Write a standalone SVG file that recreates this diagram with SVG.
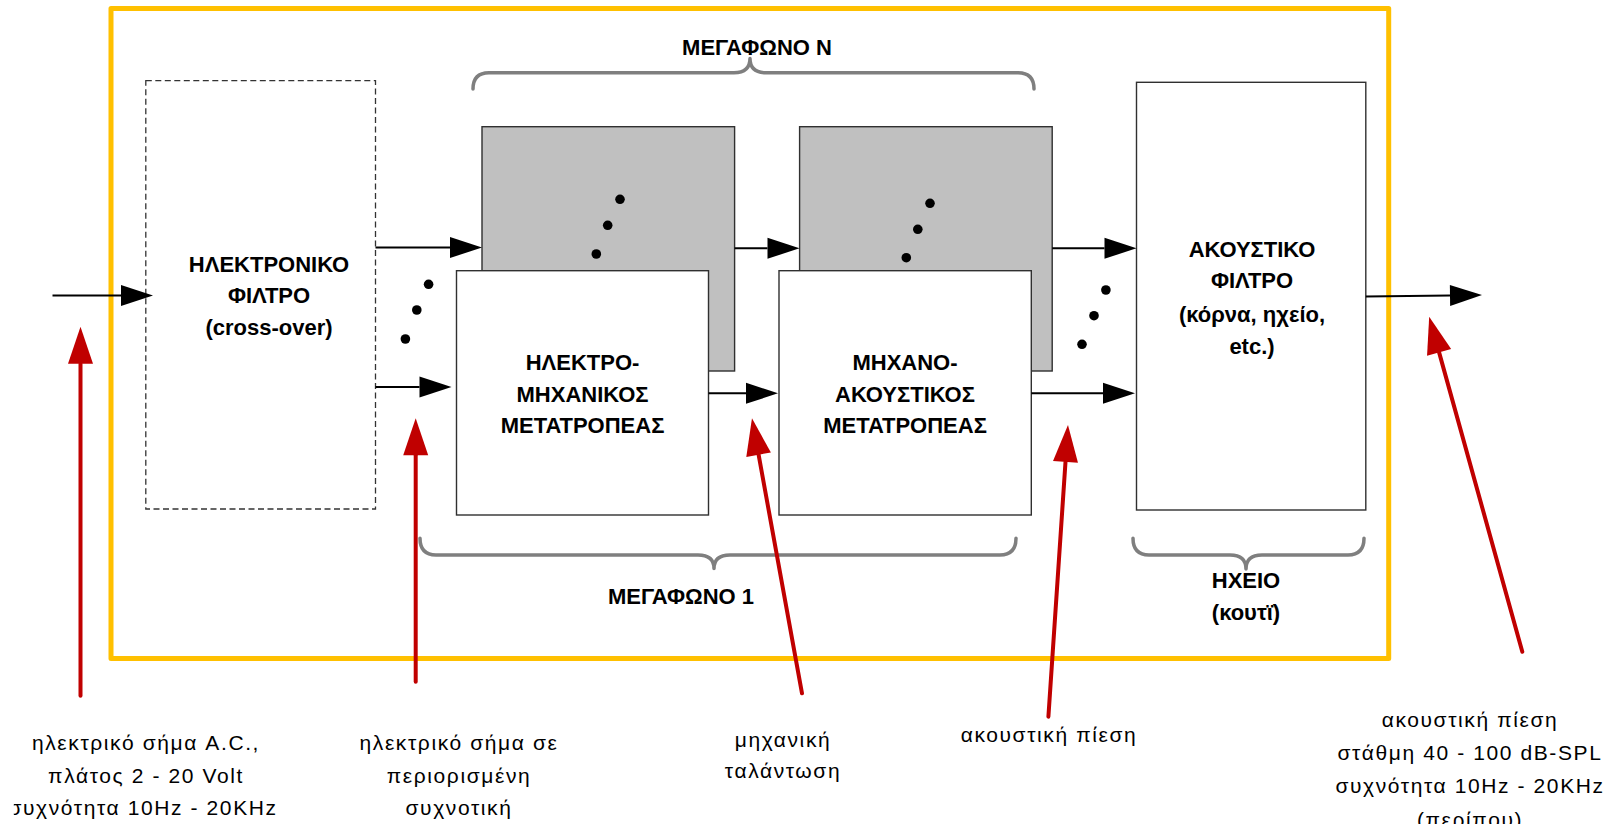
<svg xmlns="http://www.w3.org/2000/svg" width="1622" height="824" viewBox="0 0 1622 824">
  <style>
    .lbl { font-family: "Liberation Sans", Arial, sans-serif; font-weight: bold; font-size: 22px; fill: #000; text-anchor: middle; }
    .note { font-family: "Liberation Sans", Arial, sans-serif; font-size: 21px; letter-spacing: 1.6px; fill: #000; text-anchor: middle; }
    .frame { fill: none; stroke: #FFC000; stroke-width: 5; stroke-linejoin: round; }
    .box { fill: #FFFFFF; stroke: #303030; stroke-width: 1.4; }
    .shade { fill: #C0C0C0; stroke: #303030; stroke-width: 1.4; }
    .dashed { fill: #FFFFFF; stroke: #333333; stroke-width: 1.3; stroke-dasharray: 6 3.5; }
    .brace { fill: none; stroke: #7F7F7F; stroke-width: 3.5; stroke-linecap: round; stroke-linejoin: round; }
    .flow { fill: none; stroke: #000; stroke-width: 2; marker-end: url(#ah); }
    .call { fill: none; stroke: #C00000; stroke-width: 4; stroke-linecap: round; marker-end: url(#rh); }
    .dot { fill: #000; }
  </style>
  <defs>
    <!-- black flow arrowhead: base sits on the line end -->
    <marker id="ah" markerUnits="userSpaceOnUse" viewBox="0 -10.5 32 21" markerWidth="32" markerHeight="21" refX="0" refY="0" orient="auto" overflow="visible">
      <path d="M0,-10.5 L32,0 L0,10.5 Z" fill="#000"/>
    </marker>
    <!-- red callout arrowhead -->
    <marker id="rh" markerUnits="userSpaceOnUse" viewBox="0 -12.5 37 25" markerWidth="37" markerHeight="25" refX="0" refY="0" orient="auto" overflow="visible">
      <path d="M0,-12.5 L37,0 L0,12.5 Z" fill="#C00000"/>
    </marker>
    <!-- the left note's text box trims its first glyph -->
    <clipPath id="note-input-clip">
      <rect x="13.8" y="600" width="400" height="224"/>
    </clipPath>
  </defs>

  <rect width="1622" height="824" fill="#FFFFFF"/>

  <!-- speaker system boundary -->
  <rect id="system-frame" class="frame" x="111" y="8.5" width="1277.7" height="650"/>

  <!-- electronic crossover filter -->
  <g id="crossover">
    <rect class="dashed" x="145.8" y="80.7" width="229.7" height="428.3"/>
    <text class="lbl" x="269" y="271.5">ΗΛΕΚΤΡΟΝΙΚΟ</text>
    <text class="lbl" x="269" y="303.3">ΦΙΛΤΡΟ</text>
    <text class="lbl" x="269" y="335">(cross-over)</text>
  </g>

  <!-- driver N (shaded, behind) -->
  <g id="driver-n-electromech">
    <rect class="shade" x="482" y="126.7" width="252.6" height="244.3"/>
    <circle class="dot" cx="620" cy="199.3" r="4.8"/>
    <circle class="dot" cx="607.7" cy="225.3" r="4.8"/>
    <circle class="dot" cx="596.3" cy="254" r="4.8"/>
  </g>
  <g id="driver-n-mechacoustic">
    <rect class="shade" x="799.6" y="126.7" width="252.6" height="244.3"/>
    <circle class="dot" cx="930" cy="203.3" r="4.8"/>
    <circle class="dot" cx="917.8" cy="229.3" r="4.8"/>
    <circle class="dot" cx="906.3" cy="257.7" r="4.8"/>
  </g>

  <!-- driver 1 -->
  <g id="electromech-transducer">
    <rect class="box" x="456.5" y="270.7" width="252" height="244.3"/>
    <text class="lbl" x="582.5" y="370">ΗΛΕΚΤΡΟ-</text>
    <text class="lbl" x="582.5" y="401.7">ΜΗΧΑΝΙΚΟΣ</text>
    <text class="lbl" x="582.5" y="433.3">ΜΕΤΑΤΡΟΠΕΑΣ</text>
  </g>
  <g id="mechacoustic-transducer">
    <rect class="box" x="779" y="270.7" width="252.3" height="244.3"/>
    <text class="lbl" x="905" y="370">ΜΗΧΑΝΟ-</text>
    <text class="lbl" x="905" y="401.7">ΑΚΟΥΣΤΙΚΟΣ</text>
    <text class="lbl" x="905" y="433.3">ΜΕΤΑΤΡΟΠΕΑΣ</text>
  </g>

  <!-- acoustic filter / enclosure -->
  <g id="acoustic-filter">
    <rect class="box" x="1136.5" y="82.3" width="229.3" height="427.7"/>
    <text class="lbl" x="1252" y="256.7">ΑΚΟΥΣΤΙΚΟ</text>
    <text class="lbl" x="1252" y="288.3">ΦΙΛΤΡΟ</text>
    <text class="lbl" x="1252" y="321.7">(κόρνα, ηχείο,</text>
    <text class="lbl" x="1252" y="354">etc.)</text>
  </g>

  <!-- ellipsis dots between parallel paths -->
  <g id="path-dots">
    <circle class="dot" cx="428.6" cy="284.3" r="4.8"/>
    <circle class="dot" cx="416.8" cy="310" r="4.8"/>
    <circle class="dot" cx="405.4" cy="339" r="4.8"/>
    <circle class="dot" cx="1105.9" cy="290" r="4.8"/>
    <circle class="dot" cx="1094" cy="315.7" r="4.8"/>
    <circle class="dot" cx="1082" cy="344.3" r="4.8"/>
  </g>

  <!-- group braces and captions -->
  <g id="brace-driver-n">
    <text class="lbl" x="757" y="55">ΜΕΓΑΦΩΝΟ Ν</text>
    <path class="brace" d="M473,89 Q473,72.7 489,72.7 L734,72.7 Q750,72.7 750,58.5 Q750,72.7 766,72.7 L1018,72.7 Q1034,72.7 1034,89"/>
  </g>
  <g id="brace-driver-1">
    <path class="brace" d="M420,538.3 Q420,555 436,555 L698,555 Q714,555 714,568.5 Q714,555 730,555 L1000,555 Q1016,555 1016,538.3"/>
    <text class="lbl" x="681" y="604">ΜΕΓΑΦΩΝΟ 1</text>
  </g>
  <g id="brace-enclosure">
    <path class="brace" d="M1133,538.3 Q1133,555 1149,555 L1230,555 Q1246,555 1246,569 Q1246,555 1262,555 L1348,555 Q1364,555 1364,538.3"/>
    <text class="lbl" x="1246" y="588.3">ΗΧΕΙΟ</text>
    <text class="lbl" x="1246" y="620">(κουτϊ)</text>
  </g>

  <!-- signal flow connectors -->
  <g id="connectors">
    <line class="flow" x1="52.5" y1="295.5" x2="121" y2="295.5"/>
    <line class="flow" x1="375.5" y1="247.5" x2="450" y2="247.5"/>
    <line class="flow" x1="375.5" y1="387" x2="419.5" y2="387"/>
    <line class="flow" x1="734.6" y1="248.3" x2="767.5" y2="248.3"/>
    <line class="flow" x1="708.5" y1="393.3" x2="746" y2="393.3"/>
    <line class="flow" x1="1052.2" y1="248.3" x2="1104.5" y2="248.3"/>
    <line class="flow" x1="1031.3" y1="393.3" x2="1103" y2="393.3"/>
    <line class="flow" x1="1365.8" y1="296.5" x2="1450" y2="295.4"/>
  </g>

  <!-- red callouts pointing at signal stages -->
  <g id="callouts">
    <line class="call" x1="80.5" y1="695.7" x2="80.5" y2="363.7"/>
    <line class="call" x1="415.7" y1="681.7" x2="415.7" y2="455.3"/>
    <line class="call" x1="802" y1="693.3" x2="758.6" y2="454.7"/>
    <line class="call" x1="1048.4" y1="716.7" x2="1065.5" y2="461.9"/>
    <line class="call" x1="1522.3" y1="651.7" x2="1439.1" y2="352.4"/>
  </g>

  <!-- callout notes -->
  <g id="note-input" clip-path="url(#note-input-clip)">
    <text class="note" x="146" y="750">ηλεκτρικό σήμα A.C.,</text>
    <text class="note" x="146" y="782.7">πλάτος 2 - 20 Volt</text>
    <text class="note" x="143" y="815">συχνότητα 10Hz - 20KHz</text>
  </g>
  <g id="note-band">
    <text class="note" x="459" y="750">ηλεκτρικό σήμα σε</text>
    <text class="note" x="459" y="782.7">περιορισμένη</text>
    <text class="note" x="459" y="815">συχνοτική</text>
  </g>
  <g id="note-mech">
    <text class="note" x="783" y="746.7">μηχανική</text>
    <text class="note" x="783" y="778.3">ταλάντωση</text>
  </g>
  <g id="note-pressure">
    <text class="note" x="1049" y="741.7">ακουστική πίεση</text>
  </g>
  <g id="note-output">
    <text class="note" x="1470" y="726.7">ακουστική πίεση</text>
    <text class="note" x="1470" y="760">στάθμη 40 - 100 dB-SPL</text>
    <text class="note" x="1470" y="792.7">συχνότητα 10Hz - 20KHz</text>
    <text class="note" x="1470" y="826.5">(περίπου)</text>
  </g>
</svg>
